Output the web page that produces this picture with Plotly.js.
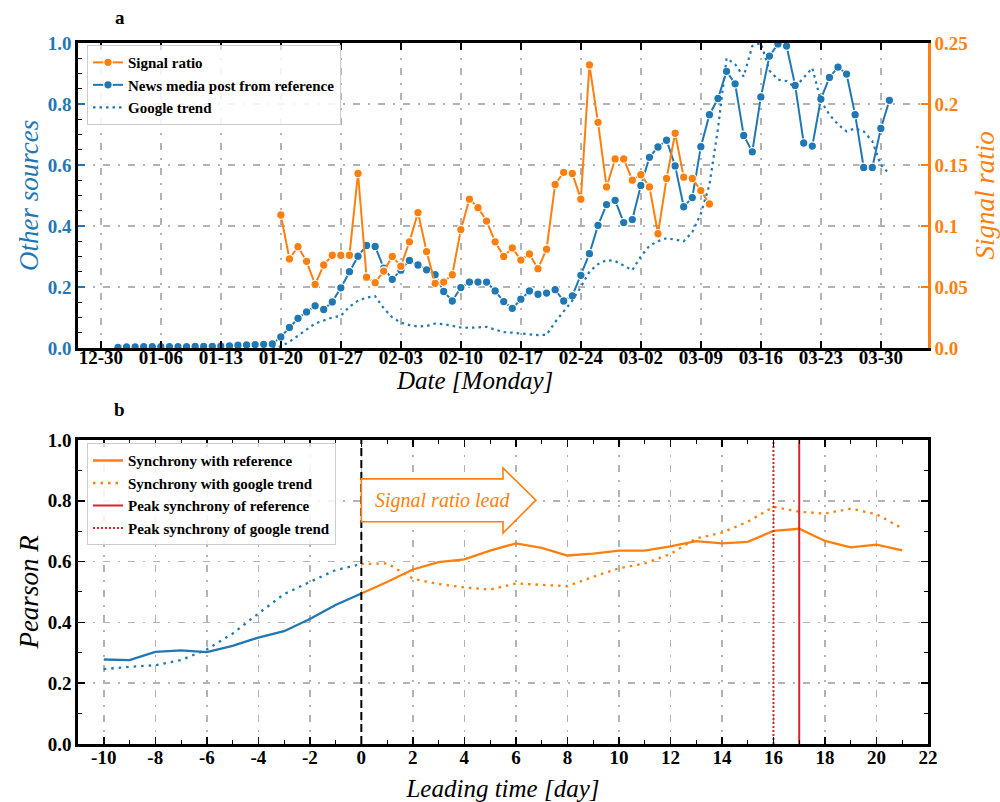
<!DOCTYPE html>
<html>
<head>
<meta charset="utf-8">
<script src="https://cdn.plot.ly/plotly-3.0.1.min.js"></script>
<style>html,body{margin:0;padding:0;background:#fff;}#chart{width:1000px;height:802px;}</style>
</head>
<body>
<div id="chart"></div>
<script>
// ---------------- DATA ----------------
// Panel a: daily series
const newsStart = '2020-01-01';
const newsValues = [
  0.002,0.003,0.003,0.004,0.004,0.004,0.004,0.004,0.004,0.005,0.005,0.005,0.006,0.007,0.009,0.010,0.011,0.012,0.013,
  0.036,0.067,0.097,0.118,0.138,0.126,0.151,0.197,0.250,0.301,0.336,0.333,0.262,0.225,0.255,0.287,0.272,0.256,0.240,
  0.185,0.154,0.198,0.216,0.216,0.216,0.187,0.152,0.130,0.160,0.187,0.176,0.180,0.191,0.154,0.171,0.238,0.309,0.402,
  0.470,0.484,0.411,0.421,0.533,0.625,0.659,0.681,0.597,0.463,0.493,0.660,0.765,0.818,0.907,0.866,0.697,0.643,0.823,
  0.957,0.997,0.990,0.861,0.672,0.662,0.816,0.887,0.921,0.898,0.765,0.592,0.592,0.720,0.812
];
const googleStart = '2020-01-19';
const googleValues = [
  0.000,0.005,0.020,0.040,0.060,0.080,0.090,0.100,0.105,0.135,0.155,0.165,0.170,0.130,0.100,0.083,0.075,0.070,0.072,
  0.080,0.078,0.072,0.067,0.066,0.067,0.069,0.060,0.052,0.050,0.048,0.044,0.042,0.043,0.085,0.120,0.155,0.200,0.250,
  0.275,0.288,0.285,0.270,0.255,0.300,0.335,0.350,0.360,0.355,0.350,0.380,0.440,0.535,0.720,0.950,0.930,0.890,0.990,
  1.000,0.910,0.880,0.875,0.855,0.885,0.918,0.810,0.765,0.733,0.710,0.720,0.710,0.678,0.600,0.570
];
const signalStart = '2020-01-20';
const signalValues = [
  0.109,0.073,0.083,0.071,0.052,0.068,0.076,0.076,0.076,0.143,0.058,0.0535,0.063,0.075,0.067,0.087,0.111,0.079,0.053,
  0.054,0.060,0.097,0.122,0.115,0.104,0.087,0.075,0.082,0.072,0.077,0.065,0.081,0.134,0.144,0.143,0.122,0.232,0.185,
  0.132,0.155,0.155,0.1375,0.142,0.132,0.0936,0.139,0.176,0.140,0.139,0.129,0.118
];

// Panel b: synchrony vs leading time
const lagsNeg = [-10,-9,-8,-7,-6,-5,-4,-3,-2,-1,0];
const refNeg = [0.278,0.276,0.303,0.308,0.302,0.323,0.350,0.371,0.411,0.457,0.495];
const googleNeg = [0.246,0.254,0.259,0.276,0.311,0.363,0.429,0.493,0.533,0.572,0.592];
const lagsPos = [0,1,2,3,4,5,6,7,8,9,10,11,12,13,14,15,16,17,18,19,20,21];
const refPos = [0.495,0.533,0.574,0.598,0.607,0.636,0.660,0.645,0.620,0.626,0.636,0.636,0.650,0.667,0.660,0.665,0.701,0.708,0.668,0.647,0.656,0.637];
const googlePos = [0.592,0.594,0.544,0.526,0.515,0.508,0.528,0.524,0.519,0.550,0.578,0.594,0.625,0.676,0.695,0.731,0.780,0.764,0.758,0.774,0.756,0.709];
const lagTickVals = [-10,-8,-6,-4,-2,0,2,4,6,8,10,12,14,16,18,20,22];
const lagTickText = ['-10','-8','-6','-4','-2','0','2','4','6','8','10','12','14','16','18','20','22'];
const ratioTickVals = [0,0.05,0.1,0.15,0.2,0.25];
const ratioTickText = ['0.0','0.05','0.1','0.15','0.2','0.25'];

// ---------------- HELPERS ----------------
function dayList(start, n) {
  const t0 = Date.parse(start + 'T00:00:00Z');
  const out = [];
  for (let i = 0; i < n; i++) out.push(new Date(t0 + i * 86400000).toISOString().slice(0, 10));
  return out;
}
function argmaxX(xs, ys) {
  let b = 0;
  for (let i = 1; i < ys.length; i++) if (ys[i] > ys[b]) b = i;
  return xs[b];
}

const BLUE = '#1f77b4', ORANGE = '#ff7f0e', RED = '#d62728';
const SERIF = 'Liberation Serif, Times New Roman, serif';
const GRIDDASH = '7px,8px,2px,8px';
const GRIDCOLOR = '#b3b3b3';

const peakRef = argmaxX(lagsPos, refPos);
const peakGoogle = argmaxX(lagsPos, googlePos);

const traces = [
  {x: dayList(signalStart, signalValues.length), y: signalValues, name: 'Signal ratio',
   xaxis: 'x', yaxis: 'y2', mode: 'lines+markers', legend: 'legend',
   line: {color: ORANGE, width: 2}, marker: {color: ORANGE, size: 8.5, line: {color: '#fff', width: 1.2}}},
  {x: dayList(newsStart, newsValues.length), y: newsValues, name: 'News media post from reference',
   xaxis: 'x', yaxis: 'y', mode: 'lines+markers', legend: 'legend',
   line: {color: BLUE, width: 2}, marker: {color: BLUE, size: 8.5, line: {color: '#fff', width: 1.2}}},
  {x: dayList(googleStart, googleValues.length), y: googleValues, name: 'Google trend',
   xaxis: 'x', yaxis: 'y', mode: 'lines', legend: 'legend',
   line: {color: BLUE, width: 2.2, dash: '2.5px,4px'}},

  {x: lagsNeg, y: refNeg, xaxis: 'x2', yaxis: 'y3', mode: 'lines', showlegend: false,
   line: {color: BLUE, width: 2.3}},
  {x: lagsNeg, y: googleNeg, xaxis: 'x2', yaxis: 'y3', mode: 'lines', showlegend: false,
   line: {color: BLUE, width: 2.3, dash: '2.5px,5px'}},
  {x: lagsPos, y: refPos, name: 'Synchrony with reference', xaxis: 'x2', yaxis: 'y3', mode: 'lines', legend: 'legend2',
   line: {color: ORANGE, width: 2.3}},
  {x: lagsPos, y: googlePos, name: 'Synchrony with google trend', xaxis: 'x2', yaxis: 'y3', mode: 'lines', legend: 'legend2',
   line: {color: ORANGE, width: 2.3, dash: '2.5px,5px'}},
  {x: [peakRef, peakRef], y: [0, 1], name: 'Peak synchrony of reference', xaxis: 'x2', yaxis: 'y3', mode: 'lines', legend: 'legend2',
   line: {color: RED, width: 2}},
  {x: [peakGoogle, peakGoogle], y: [0, 1], name: 'Peak synchrony of google trend', xaxis: 'x2', yaxis: 'y3', mode: 'lines', legend: 'legend2',
   line: {color: RED, width: 2, dash: '2px,2px'}}
];

const tickFont = {family: SERIF, size: 19, color: '#000', weight: 'bold'};
const titleFont = {family: SERIF, size: 25, color: '#000', style: 'italic'};

const commonAxis = {
  showline: true, linewidth: 2.8, linecolor: '#000', ticks: 'inside', ticklen: 7, tickwidth: 1.5, tickcolor: '#000',
  showgrid: true, gridcolor: GRIDCOLOR, gridwidth: 1.5, griddash: GRIDDASH, zeroline: false, tickfont: tickFont
};

const legendStyle = {
  bgcolor: 'rgba(255,255,255,0.85)', bordercolor: '#cccccc', borderwidth: 1,
  font: {family: SERIF, size: 15, color: '#000', weight: 'bold'}, xanchor: 'left', yanchor: 'top',
  tracegroupgap: 0, itemwidth: 30
};

const layout = {
  width: 1000, height: 802,
  margin: {l: 78, r: 72, t: 43, b: 58},
  paper_bgcolor: '#fff', plot_bgcolor: '#fff',
  showlegend: true,
  xaxis: Object.assign({}, commonAxis, {
    domain: [0, 1], anchor: 'y', type: 'date',
    range: ['2019-12-27 08:00', '2020-04-04 12:00'],
    tick0: '2019-12-30', dtick: 7 * 86400000, tickformat: '%m-%d', mirror: 'ticks',
    ticklabelposition: 'outside', ticklabelstandoff: -10
  }),
  yaxis: Object.assign({}, commonAxis, {
    domain: [0.565, 1], anchor: 'x', range: [0, 1], dtick: 0.2, tickformat: '.1f',
    tickcolor: BLUE, tickfont: Object.assign({}, tickFont, {color: BLUE}),
    minor: {dtick: 0.05, ticks: 'inside', ticklen: 4, tickcolor: '#000', tickwidth: 1, showgrid: false},
    title: {text: 'Other sources', font: Object.assign({}, titleFont, {size: 27, color: BLUE}), standoff: 2}
  }),
  yaxis2: {
    overlaying: 'y', side: 'right', anchor: 'x', range: [0, 0.25],
    tickvals: ratioTickVals, ticktext: ratioTickText,
    showline: true, linewidth: 2.8, linecolor: ORANGE, ticks: 'inside', ticklen: 7, tickwidth: 1.5, tickcolor: ORANGE,
    showgrid: false, zeroline: false, tickfont: Object.assign({}, tickFont, {color: ORANGE}),
    title: {text: 'Signal ratio', font: Object.assign({}, titleFont, {size: 27, color: ORANGE}), standoff: 9}
  },
  xaxis2: Object.assign({}, commonAxis, {
    domain: [0, 1], anchor: 'y3', range: [-11, 22],
    tickvals: lagTickVals, ticktext: lagTickText, mirror: 'ticks',
    ticklabelposition: 'outside', ticklabelstandoff: -6,
    minor: {dtick: 1, ticks: 'inside', ticklen: 4, tickcolor: '#000', tickwidth: 1, showgrid: false},
    title: {text: 'Leading time [day]', font: titleFont, standoff: 13}
  }),
  yaxis3: Object.assign({}, commonAxis, {
    domain: [0, 0.4337], anchor: 'x2', range: [0, 1], dtick: 0.2, tickformat: '.1f', mirror: 'ticks',
    minor: {dtick: 0.1, ticks: 'inside', ticklen: 4, tickcolor: '#000', tickwidth: 1, showgrid: false},
    title: {text: 'Pearson R', font: Object.assign({}, titleFont, {size: 27}), standoff: 2}
  }),
  legend: Object.assign({}, legendStyle, {x: 0.0106, y: 0.997}),
  legend2: Object.assign({}, legendStyle, {x: 0.0106, y: 0.429}),
  shapes: [
    {type: 'line', xref: 'x2', yref: 'y3', x0: 0, x1: 0, y0: 0, y1: 1,
     line: {color: '#000', width: 2, dash: '8px,4px'}},
    {type: 'path', xref: 'x2', yref: 'y3',
     path: 'M 0,0.731 L 5.5,0.731 L 5.5,0.694 L 6.78,0.802 L 5.5,0.908 L 5.5,0.872 L 0,0.872 Z',
     fillcolor: '#ffffff', line: {color: ORANGE, width: 1.6}}
  ],
  annotations: [
    {text: 'Signal ratio lead', xref: 'x2', yref: 'y3', x: 3.16, y: 0.802, showarrow: false,
     font: {family: SERIF, size: 20, color: ORANGE, style: 'italic'}},
    {text: 'Date [Monday]', xref: 'paper', yref: 'paper', x: 0.466, y: 0.519, showarrow: false,
     xanchor: 'center', yanchor: 'middle', font: titleFont},
    {text: '<b>a</b>', xref: 'paper', yref: 'paper', x: 0.0494, y: 1.0357, showarrow: false,
     xanchor: 'center', yanchor: 'middle', font: {family: SERIF, size: 19, color: '#000'}},
    {text: '<b>b</b>', xref: 'paper', yref: 'paper', x: 0.0494, y: 0.4765, showarrow: false,
     xanchor: 'center', yanchor: 'middle', font: {family: SERIF, size: 19, color: '#000'}}
  ]
};

Plotly.newPlot('chart', traces, layout, {displayModeBar: false, staticPlot: true});
</script>
</body>
</html>
